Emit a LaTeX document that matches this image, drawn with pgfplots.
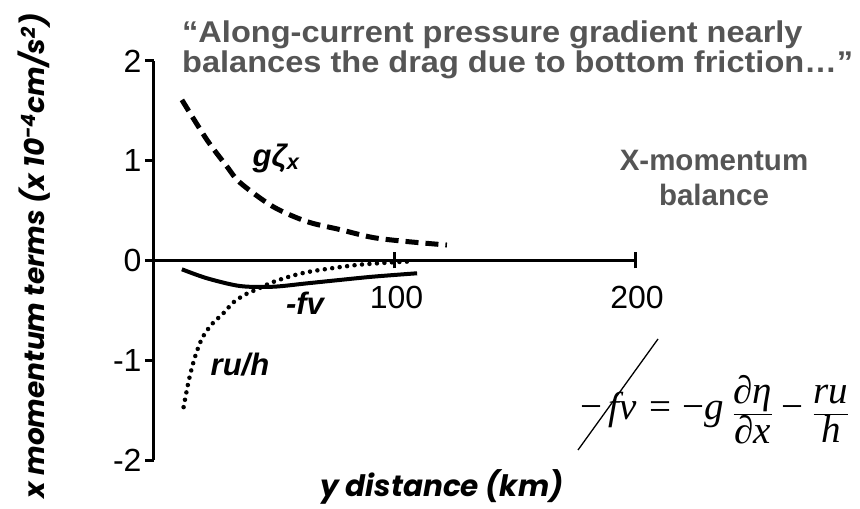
\documentclass[border=0pt]{standalone}
\usepackage{fontspec}
\setmainfont{Liberation Sans}
\newfontfamily\poppins{Poppins}
\newfontfamily\timesfont{Liberation Serif}
\newfontfamily\notefont[FakeStretch=1.085]{Liberation Sans}
\usepackage{pgfplots}
\pgfplotsset{compat=1.18}
\definecolor{notegray}{HTML}{555555}

\begin{document}
\begin{tikzpicture}
% canvas 860 x 509 pt; origin at the lower-left corner of the axis box
\path[use as bounding box] (-154pt,-49pt) rectangle (706pt,460pt);
\begin{axis}[
  at={(0pt,0pt)}, anchor=south west,
  scale only axis, width=481pt, height=399pt,
  xmin=0, xmax=200, ymin=-2, ymax=2,
  axis x line=middle, axis y line=left,
  axis line style={-, line width=3pt},
  hide obscured y ticks=false,
  xtick=\empty,
  ytick={-2,-1,0,1,2},
  yticklabels={-2,-1,0,1,2},
  major tick length=9pt,
  ytick align=outside,
  every tick/.style={black, line width=3pt},
  tick label style={font=\fontsize{32}{32}\selectfont},
  extra x ticks={100,200},
  extra x tick labels={100,200},
  extra x tick style={major tick length=16pt, tick align=center,
    tick label style={yshift=-14pt, xshift=2pt}},
  clip=false,
]
% pressure gradient term g zeta_x
\addplot[black, line width=5pt, dash pattern=on 13pt off 7pt, smooth] coordinates {
  (11.6,1.61) (22.0,1.21) (30.4,0.94) (35.8,0.78) (49.5,0.54) (63.6,0.39)
  (77.3,0.31) (91.1,0.23) (105.2,0.19) (121.8,0.155)
};
% Coriolis term -fv
\addplot[black, line width=4pt, smooth] coordinates {
  (11.6,-0.088) (22.0,-0.178) (35.8,-0.256) (49.5,-0.263) (63.6,-0.229)
  (77.3,-0.195) (91.1,-0.162) (109.4,-0.128)
};
% bottom friction term ru/h
\addplot[black, line width=4.5pt, line cap=round, dash pattern=on 0pt off 7.5pt, smooth] coordinates {
  (12.3,-1.47) (14.5,-1.20) (17.0,-0.97) (20.0,-0.78) (24.0,-0.64)
  (28.8,-0.53) (33.0,-0.42) (38.0,-0.34) (42.7,-0.29) (49.0,-0.22)
  (56.5,-0.16) (63.0,-0.12) (70.4,-0.09) (84.3,-0.045) (98.1,-0.02) (106.4,-0.01)
};
\end{axis}

\begin{scope}[x=1pt, y=-1pt, shift={(-154pt,460pt)}]
  % axis titles
  \node[rotate=90, inner sep=0, font=\poppins\bfseries\itshape\fontsize{28}{28}\selectfont]
    at (34,256) {x momentum terms (x 10\textsuperscript{-4}cm/s\textsuperscript{2})};
  \node[anchor=base, inner sep=0, font=\poppins\bfseries\itshape\fontsize{29.5}{29.5}\selectfont]
    at (442,496) {y distance (km)};
  % curve labels
  \node[font=\bfseries\itshape\fontsize{31}{31}\selectfont] at (276,158) {gζ\textsubscript{x}};
  \node[font=\bfseries\itshape\fontsize{31}{31}\selectfont] at (305,303) {-fv};
  \node[font=\bfseries\itshape\fontsize{31}{31}\selectfont] at (240,365) {ru/h};
  % notes
  \node[anchor=base west, inner sep=0, text=notegray,
    font=\notefont\bfseries\fontsize{30}{30}\selectfont] at (182,43)
    {“Along-current pressure gradient nearly};
  \node[anchor=base west, inner sep=0, text=notegray,
    font=\notefont\bfseries\fontsize{30}{30}\selectfont] at (182,73)
    {balances the drag due to bottom friction…”};
  \node[align=center, text=notegray, font=\bfseries\fontsize{29.5}{35}\selectfont]
    at (714,178) {X-momentum\\balance};
  % momentum balance equation
  \node[anchor=base west, inner sep=0, font=\timesfont\fontsize{39}{39}\selectfont] at (580,420)
    {$\displaystyle \mbox{−\,\textit{fv}\hspace{13pt}=\hspace{11pt}−\textit{g}\hspace{8pt}}
      \frac{\mbox{\textit{∂η}}}{\mbox{\textit{∂x}}}
      \mbox{\hspace{8pt}−\hspace{9pt}}
      \frac{\mbox{\textit{ru}}}{\mbox{\textit{h}}}$};
  \draw[line width=1.3pt] (578,450) -- (658,339);
\end{scope}
\end{tikzpicture}
\end{document}
